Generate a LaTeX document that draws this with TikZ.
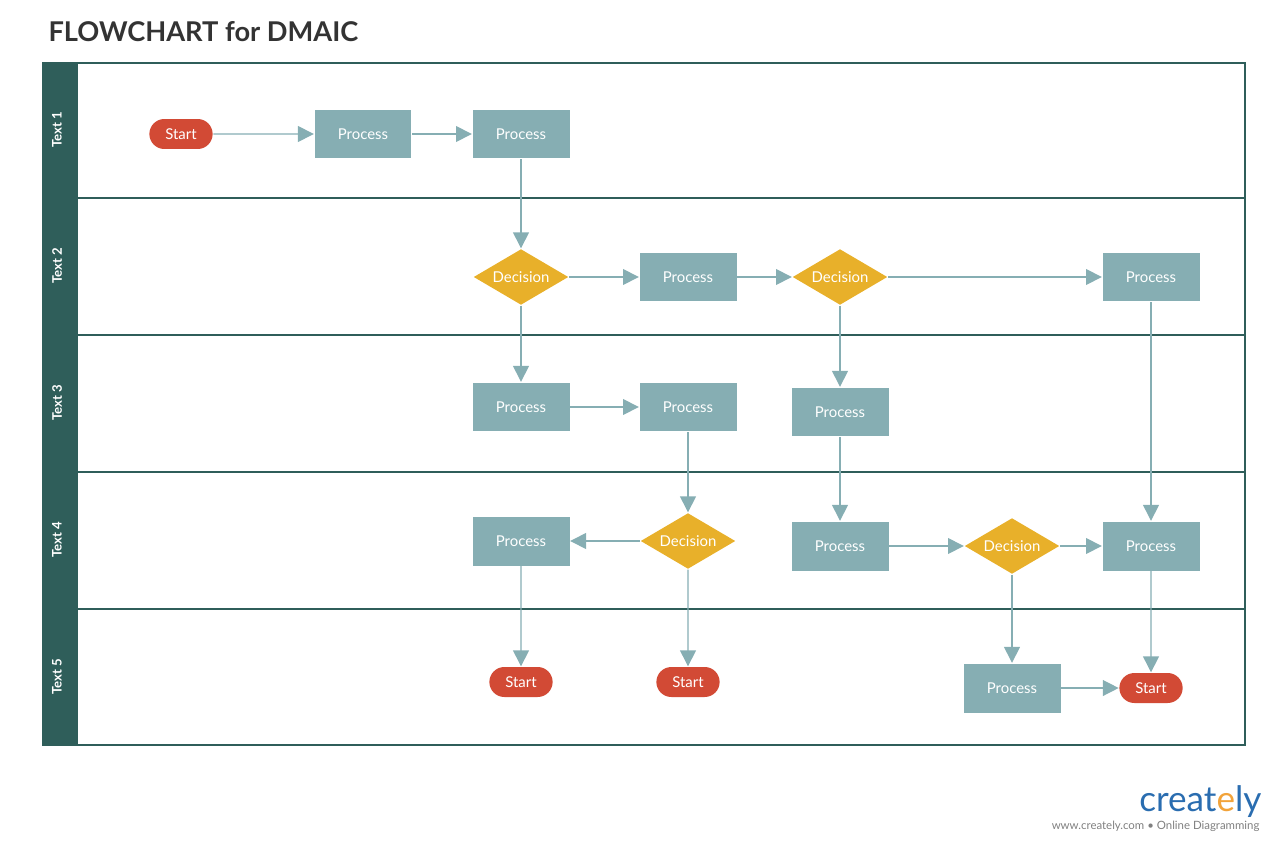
\documentclass[tikz,border=0pt]{standalone}
\usepackage{fontspec}
\setmainfont{Lato}
\usepackage{xcolor}
\usetikzlibrary{calc,positioning,shapes.geometric,shapes.misc,arrows.meta}
\definecolor{lane}{HTML}{2F5E5A}
\definecolor{proc}{HTML}{86AEB3}
\definecolor{deci}{HTML}{E8B02A}
\definecolor{term}{HTML}{D24A35}
\definecolor{logoblue}{HTML}{2A6DB0}
\definecolor{logoorange}{HTML}{F2A33A}
\begin{document}
\begin{tikzpicture}[x=0.02cm,y=-0.02cm,-{Triangle[length=9pt,width=9pt]},thick,
                    process node/.style={rectangle,fill=proc,minimum width=1.94cm,minimum height=0.98cm,text=white,font=\fontsize{8.5}{10}\selectfont},
                    decision node/.style={diamond,fill=deci,minimum width=1.9cm,minimum height=1.12cm,aspect=1.7,inner sep=0pt,text=white,font=\fontsize{8.5}{10}\selectfont},
                    start node/.style={rounded rectangle,fill=term,minimum width=1.5cm,minimum height=0.6cm,text=white,font=\fontsize{8.5}{10}\selectfont}]

  \useasboundingbox (0,0) rectangle (1280,841);
  \node[anchor=west,font=\bfseries\fontsize{15.5}{18}\selectfont,text=black!80] (title) at (42,32) {FLOWCHART for DMAIC};

  % swimlanes
  \fill[lane] (43,63) rectangle (78,745);
  \draw[-,lane,line width=1.2pt] (43,63) rectangle (1245,745);
  \foreach \y in {198,335,472,609}
    \draw[-,lane,line width=1.2pt] (78,\y) -- (1245,\y);
  \foreach \y/\t in {130/1,266/2,403/3,540/4,677/5}
    \node[rotate=90,text=white,font=\bfseries\fontsize{7.5}{9}\selectfont] (lane\t) at (57,\y) {Text \t};

  \node[start node] (s1) at (181,134) {Start};
  \node[process node] (p1) at (363,134) {Process};
  \node[process node] (p2) at (521,134) {Process};
  \node[decision node] (d1) at (521,277) {Decision};
  \node[process node] (p3) at (688,277) {Process};
  \node[decision node] (d2) at (840,277) {Decision};
  \node[process node] (p4) at (1151,277) {Process};
  \node[process node] (p5) at (521,407) {Process};
  \node[process node] (p6) at (688,407) {Process};
  \node[process node] (p7) at (840,412) {Process};
  \node[process node] (p8) at (521,541) {Process};
  \node[decision node] (d3) at (688,541) {Decision};
  \node[process node] (p9) at (840,546) {Process};
  \node[decision node] (d4) at (1012,546) {Decision};
  \node[process node] (p10) at (1151,546) {Process};
  \node[start node] (s2) at (521,682) {Start};
  \node[start node] (s3) at (688,682) {Start};
  \node[process node] (p11) at (1012,688) {Process};
  \node[start node] (s4) at (1151,688) {Start};

  \path[proc]
    (s1) edge (p1)
    (p1) edge (p2)
    (p2) edge (d1)
    (d1) edge (p3)
         edge (p5)
    (p3) edge (d2)
    (d2) edge (p4)
         edge (p7)
    (p5) edge (p6)
    (p6) edge (d3)
    (d3) edge (p8)
         edge (s3)
    (p7) edge (p9)
    (p9) edge (d4)
    (d4) edge (p10)
         edge (p11)
    (p4) edge (p10)
    (p8) edge (s2)
    (p11) edge (s4)
    (p10) edge (s4);

  \node[font=\fontsize{20}{24}\selectfont,text=logoblue,anchor=east] (logo) at (1268,802) {creat\textcolor{logoorange}{e}ly};
  \node[font=\fontsize{6.5}{8}\selectfont,text=gray,anchor=east] (url) at (1266,826) {www.creately.com • Online Diagramming};
\end{tikzpicture}
\end{document}
